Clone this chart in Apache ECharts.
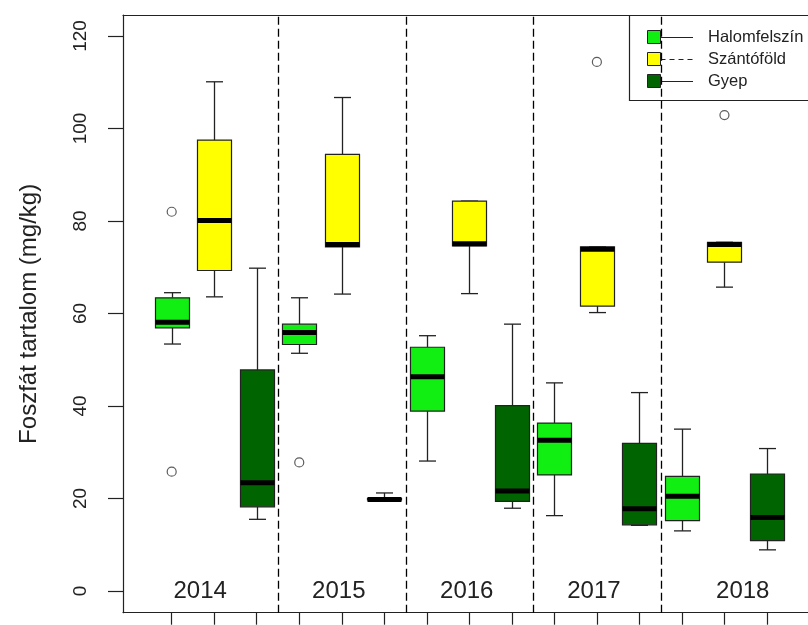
<!DOCTYPE html>
<html>
<head>
<meta charset="utf-8">
<script src="https://cdn.jsdelivr.net/npm/echarts@6/dist/echarts.min.js"></script>
<style>
html,body{margin:0;padding:0;background:#fff;}
#chart{width:808px;height:625px;}
</style>
</head>
<body>
<div id="chart"></div>
<script>
// ---- data ----
const years = ['2014', '2015', '2016', '2017', '2018'];
const seriesNames = ['Halomfelszín', 'Szántóföld', 'Gyep'];
// [min whisker, Q1, median, Q3, max whisker] per year
const halomfelszin = [
  [53.4, 56.9, 58.1, 63.4, 64.5],
  [51.4, 53.3, 55.9, 57.7, 63.4],
  [28.1, 38.9, 46.3, 52.7, 55.2],
  [16.3, 25.1, 32.6, 36.3, 45.0],
  [13.0, 15.2, 20.5, 24.8, 35.0]
];
const szantofold = [
  [63.6, 69.3, 80.1, 97.5, 110.1],
  [64.2, 74.4, 74.9, 94.4, 106.7],
  [64.3, 74.6, 75.1, 84.3, 84.3],
  [60.2, 61.6, 73.9, 74.4, 74.4],
  [65.7, 71.1, 74.9, 75.4, 75.4]
];
const gyep = [
  [15.5, 18.2, 23.4, 47.8, 69.8],
  [19.5, 19.7, 19.8, 20.0, 21.2],
  [17.9, 19.4, 21.6, 40.1, 57.7],
  [14.2, 14.3, 17.8, 31.9, 42.9],
  [8.9, 10.9, 15.9, 25.3, 30.8]
];
// outliers: [year index, value]
const halomOutliers = [[0, 82.0], [0, 25.8], [1, 27.8]];
const szantoOutliers = [[3, 114.4], [4, 102.9]];
const gyepOutliers = [];
const yTicks = [0, 20, 40, 60, 80, 100, 120];

// ---- styling / layout ----
const colors = ['#11ee11', '#ffff00', '#006400'];
const FONT = 'Liberation Sans, Arial, sans-serif';
const INK = '#222';
const yearLabelNudge = [-0.33, -0.07, -0.06, -0.07, 0.43];
const Y_MIN = -4.69, Y_MAX = 124.54;
const X_MIN = -0.145, X_MAX = 15.965;

const nGroups = years.length, nSeries = seriesNames.length;
const pos = (yi, si) => yi * nSeries + si + 1;
const boxSets = [halomfelszin, szantofold, gyep];
const outSets = [halomOutliers, szantoOutliers, gyepOutliers];
const xTicks = [];
for (let i = 1; i <= nGroups * nSeries; i++) xTicks.push(i);
const separators = [];
for (let g = 1; g < nGroups; g++) separators.push([g * nSeries + 0.5]);

function boxRender(params, api) {
  const x = api.value(0);
  const pMin = api.coord([x, api.value(1)]);
  const pQ1 = api.coord([x, api.value(2)]);
  const pMed = api.coord([x, api.value(3)]);
  const pQ3 = api.coord([x, api.value(4)]);
  const pMax = api.coord([x, api.value(5)]);
  const hw = api.size([0.4, 0])[0];
  const sw = hw / 2;
  const cx = Math.round(pMed[0]) + 0.5;
  const color = api.visual('color');
  const ls = { stroke: INK, lineWidth: 1.3 };
  return {
    type: 'group',
    children: [
      { type: 'line', shape: { x1: cx, y1: pQ3[1], x2: cx, y2: pMax[1] }, style: ls },
      { type: 'line', shape: { x1: cx, y1: pQ1[1], x2: cx, y2: pMin[1] }, style: ls },
      { type: 'line', shape: { x1: cx - sw, y1: pMax[1], x2: cx + sw, y2: pMax[1] }, style: ls },
      { type: 'line', shape: { x1: cx - sw, y1: pMin[1], x2: cx + sw, y2: pMin[1] }, style: ls },
      { type: 'rect', shape: { x: cx - hw, y: pQ3[1], width: 2 * hw, height: pQ1[1] - pQ3[1] },
        style: { fill: color, stroke: INK, lineWidth: 1.2 } },
      { type: 'line', shape: { x1: cx - hw, y1: pMed[1], x2: cx + hw, y2: pMed[1] },
        style: { stroke: '#000', lineWidth: 5 } }
    ]
  };
}

const series = [];
// group separators (dashed)
series.push({
  type: 'custom',
  name: 'sep',
  data: separators,
  z: 1,
  silent: true,
  renderItem: function (params, api) {
    const x = api.value(0);
    const a = api.coord([x, Y_MIN]);
    const b = api.coord([x, Y_MAX]);
    return { type: 'line', shape: { x1: Math.round(a[0]) + 0.5, y1: a[1], x2: Math.round(b[0]) + 0.5, y2: b[1] },
      style: { stroke: '#000', lineWidth: 1.3, lineDash: [8, 4] } };
  }
});
boxSets.forEach(function (set, si) {
  series.push({
    type: 'custom',
    name: seriesNames[si],
    itemStyle: { color: colors[si] },
    z: 3,
    data: set.map(function (v, yi) { return [pos(yi, si)].concat(v); }),
    encode: { x: 0, y: [1, 2, 3, 4, 5] },
    renderItem: boxRender
  });
  series.push({
    type: 'scatter',
    name: seriesNames[si] + ' outliers',
    symbol: 'circle',
    symbolSize: 9,
    z: 4,
    itemStyle: { color: 'transparent', borderColor: '#333', borderWidth: 1.2 },
    data: outSets[si].map(function (o) { return [pos(o[0], si), o[1]]; })
  });
});
// year labels
series.push({
  type: 'custom',
  name: 'years',
  z: 5,
  silent: true,
  data: years.map(function (y, i) { return [i * nSeries + 2 + yearLabelNudge[i], 0]; }),
  renderItem: function (params, api) {
    const p = api.coord([api.value(0), api.value(1)]);
    return { type: 'text', style: { text: years[params.dataIndex], x: p[0], y: p[1],
      align: 'center', verticalAlign: 'middle', fontSize: 24, fontFamily: FONT, fill: INK } };
  }
});

// legend drawn as graphic
const legendChildren = [
  { type: 'rect', shape: { x: 629.5, y: 15.5, width: 220, height: 85 },
    style: { fill: '#fff', stroke: INK, lineWidth: 1.2 } }
];
seriesNames.forEach(function (n, i) {
  const y = 37 + 22 * i;
  legendChildren.push({ type: 'rect', shape: { x: 647.5, y: y - 6.5, width: 13, height: 13 },
    style: { fill: colors[i], stroke: INK, lineWidth: 1 } });
  legendChildren.push({ type: 'line', shape: { x1: 660.5, y1: y + 0.5, x2: 693, y2: y + 0.5 },
    style: { stroke: INK, lineWidth: 1.2, lineDash: i === 1 ? [5, 4] : null } });
  legendChildren.push({ type: 'text', x: 708, y: y,
    style: { text: n, fontSize: 16.5, fontFamily: FONT, fill: INK, verticalAlign: 'middle', align: 'left' } });
});

const chart = echarts.init(document.getElementById('chart'), null, { renderer: 'canvas' });
chart.setOption({
  animation: false,
  backgroundColor: '#fff',
  grid: { left: 123, right: 0, top: 15, height: 597.7, show: false },
  xAxis: [{
    type: 'value', min: X_MIN, max: X_MAX, position: 'bottom',
    axisLine: { show: true, onZero: false, lineStyle: { color: INK, width: 1.2 } },
    axisTick: { show: true, customValues: xTicks, length: 12, lineStyle: { color: INK, width: 1.2 } },
    axisLabel: { show: false },
    splitLine: { show: false }
  }, {
    type: 'value', min: X_MIN, max: X_MAX, position: 'top',
    axisLine: { show: true, onZero: false, lineStyle: { color: INK, width: 1.2 } },
    axisTick: { show: false },
    axisLabel: { show: false },
    splitLine: { show: false }
  }],
  yAxis: {
    type: 'value', min: Y_MIN, max: Y_MAX,
    name: 'Foszfát tartalom (mg/kg)',
    nameLocation: 'middle',
    nameRotate: 90,
    nameGap: 82,
    nameTextStyle: { fontSize: 24, fontFamily: FONT, color: INK },
    axisLine: { show: true, onZero: false, lineStyle: { color: INK, width: 1.2 } },
    axisTick: { show: true, customValues: yTicks, length: 15, lineStyle: { color: INK, width: 1.2 } },
    axisLabel: { show: true, customValues: yTicks, rotate: 90, margin: 33, fontSize: 19, fontFamily: FONT, color: INK },
    splitLine: { show: false }
  },
  graphic: [{ type: 'group', z: 100, children: legendChildren }],
  series: series
});
</script>
</body>
</html>
